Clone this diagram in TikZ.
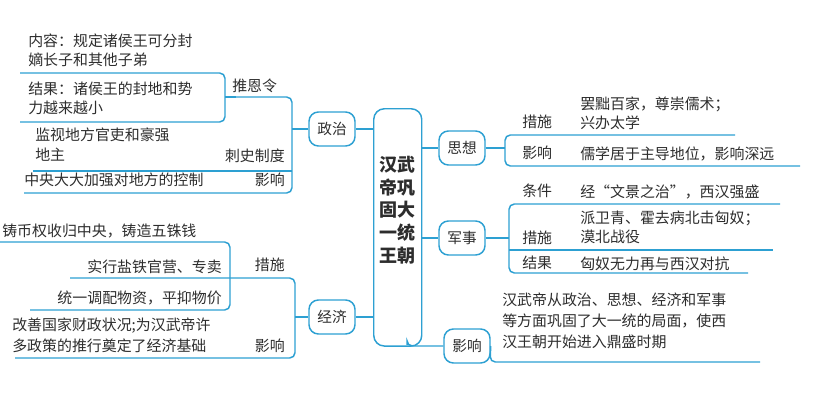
\documentclass[tikz,border=0pt]{standalone}
\usepackage{fontspec}
\setmainfont{Noto Sans CJK SC}
\definecolor{ln}{RGB}{45,160,210}
\definecolor{tx}{RGB}{45,45,45}
\tikzset{
  L/.style={draw=ln,line width=1.1pt,rounded corners=4pt},
  bx/.style={draw=ln,line width=1.1pt,rounded corners=7pt,minimum width=46pt*0.75,minimum height=34pt*0.75,text=tx,font=\fontsize{11}{13}\selectfont,inner sep=1pt},
  t/.style={anchor=west,text=tx,font=\fontsize{11.2}{13}\selectfont,inner sep=0pt},
  tr/.style={anchor=east,text=tx,font=\fontsize{11.2}{13}\selectfont,inner sep=0pt},
}
\begin{document}
\begin{tikzpicture}[x=0.75pt,y=-0.75pt]
\useasboundingbox (0,0) rectangle (823,407);
% centre
\node[draw=ln,line width=1.1pt,rounded corners=8pt,minimum width=36pt,minimum height=178pt,anchor=north west,inner sep=0pt] (c) at (373,108) {};
\node[text=tx,font=\bfseries\fontsize{13.5}{17}\selectfont,align=center] (ct) at (397,210) {汉武\\帝巩\\固大\\一统\\王朝};
% boxes
\node[bx] (zz) at (332,129) {政治};
\node[bx] (jj) at (332,317) {经济};
\node[bx] (sx) at (462,148) {思想};
\node[bx] (js) at (462,238) {军事};
\node[bx] (yx) at (467,346) {影响};
\draw[L] (zz.east) -- (373,129);
\draw[L] (jj.east) -- (373,317);
\draw[L] (421,148) -- (sx.west);
\draw[L] (421,238) -- (js.west);
\draw[L] (407,345) -- (407,346) |- (yx.west);
% politics
\draw[L] (zz.west) -- (292,129);
\draw[L] (225,97) -| (292,193) -- (24,193);
\draw[L] (292,171) -- (33,171);
\draw[L] (20,73) -- (225,73) -- (225,122) -- (20,122);
\draw[L,sharp corners] (225,97) -- (236,97);
\node[t] (a1) at (28,41) {内容：规定诸侯王可分封};
\node[t] (a2) at (28,60) {嫡长子和其他子弟};
\node[t] (a3) at (28,89) {结果：诸侯王的封地和势};
\node[t] (a4) at (28,108) {力越来越小};
\node[t] (a5) at (232,86) {推恩令};
\node[t] (a6) at (35,135) {监视地方官吏和豪强};
\node[t] (a7) at (35,155) {地主};
\node[tr] (a8) at (285,156) {刺史制度};
\node[t] (a9) at (24,180) {中央大大加强对地方的控制};
\node[tr] (a10) at (285,180) {影响};
% economy
\draw[L] (jj.west) -- (295,317);
\draw[L] (70,278) -- (295,278) -- (295,358) -- (15,358);
\draw[L] (0,242) -- (230,242) -- (230,310) -- (30,310);
\node[t] (b1) at (2,231) {铸币权收归中央，铸造五铢钱};
\node[tr] (b2) at (222,267) {实行盐铁官营、专卖};
\node[tr] (b3) at (285,265) {措施};
\node[tr] (b4) at (222,298) {统一调配物资，平抑物价};
\node[t] (b5) at (12,326) {改善国家财政状况;为汉武帝许};
\node[t] (b6) at (12,346) {多政策的推行奠定了经济基础};
\node[tr] (b7) at (285,346) {影响};
% thought
\draw[L] (sx.east) -- (505,148);
\draw[L] (735,135) -- (505,135) -- (505,166) -- (800,166);
\node[t] (c1) at (522,122) {措施};
\node[t] (c2) at (580,104) {罢黜百家，尊崇儒术；};
\node[t] (c3) at (580,123) {兴办太学};
\node[t] (c4) at (522,153) {影响};
\node[t] (c5) at (580,154) {儒学居于主导地位，影响深远};
% military
\draw[L] (js.east) -- (509,238);
\draw[L] (780,204) -- (509,204) -- (509,273) -- (748,273);
\draw[L] (509,250) -- (773,250);
\node[t] (d1) at (522,191) {条件};
\node[t] (d2) at (580,192) {经“文景之治”，西汉强盛};
\node[t] (d3) at (522,238) {措施};
\node[t] (d4) at (580,218) {派卫青、霍去病北击匈奴；};
\node[t] (d5) at (580,237) {漠北战役};
\node[t] (d6) at (522,263) {结果};
\node[t] (d7) at (580,264) {匈奴无力再与西汉对抗};
% impact
\draw[L] (yx.east) -- (490,362) -- (760,362);
\node[t] (e1) at (502,300) {汉武帝从政治、思想、经济和军事};
\node[t] (e2) at (502,321) {等方面巩固了大一统的局面，使西};
\node[t] (e3) at (502,342) {汉王朝开始进入鼎盛时期};
\end{tikzpicture}
\end{document}
